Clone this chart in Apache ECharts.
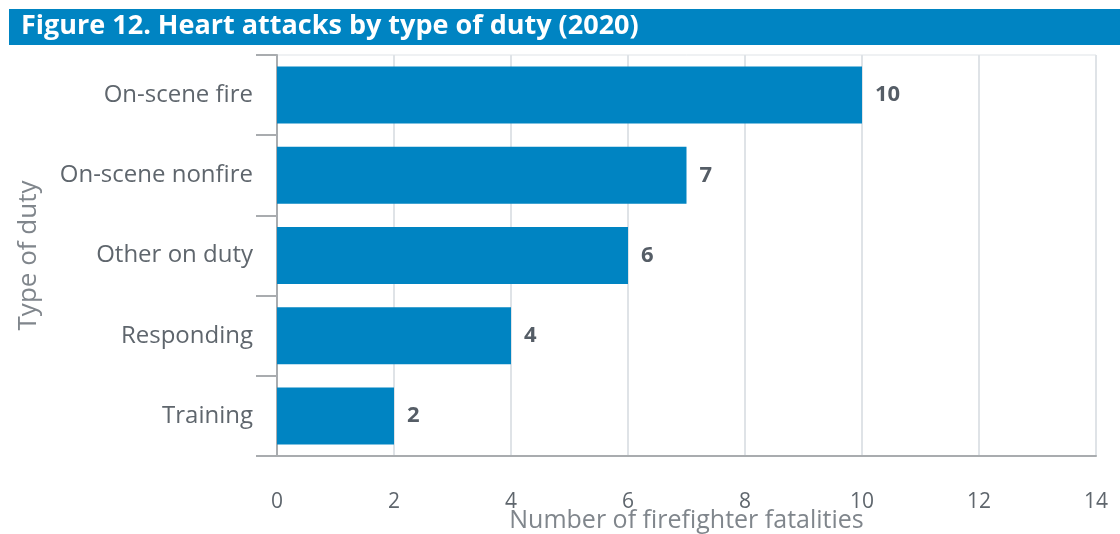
<!DOCTYPE html>
<html>
<head>
<meta charset="utf-8">
<script src="https://cdn.jsdelivr.net/npm/echarts@6/dist/echarts.min.js"></script>
<style>
  html, body { margin: 0; padding: 0; background: #fff; }
  #chart { width: 1120px; height: 534px; }
</style>
</head>
<body>
<div id="chart"></div>
<script>
// data
var duties = ['On-scene fire', 'On-scene nonfire', 'Other on duty', 'Responding', 'Training'];
var fatalities = [10, 7, 6, 4, 2];
var xTicks = [0, 2, 4, 6, 8, 10, 12, 14];

var blue = '#0084c2';
var chart = echarts.init(document.getElementById('chart'));

chart.setOption({
  animation: false,
  textStyle: { fontFamily: 'Open Sans' },
  graphic: [
    {
      type: 'rect',
      left: 9, top: 9,
      shape: { width: 1111, height: 36 },
      style: { fill: blue }
    },
    {
      type: 'text',
      left: 21, top: 13,
      style: {
        text: 'Figure 12. Heart attacks by type of duty (2020)',
        fill: '#fff',
        font: 'bold 27px "Open Sans"'
      }
    }
  ],
  grid: {
    left: 277, right: 24, top: 55, bottom: 78,
    outerBoundsMode: 'none',
    containLabel: false,
    show: true, borderColor: '#dfe3e7', borderWidth: 1
  },
  xAxis: {
    type: 'value',
    min: xTicks[0], max: xTicks[xTicks.length - 1], interval: 2,
    name: 'Number of firefighter fatalities',
    nameLocation: 'middle',
    nameGap: 52,
    nameMoveOverlap: false,
    nameTextStyle: { fontSize: 25, color: '#80868c' },
    axisLine: { show: true, lineStyle: { color: '#a9acaf', width: 2 } },
    axisTick: { show: false },
    axisLabel: { fontSize: 21, color: '#5f666d', margin: 36 },
    splitLine: { lineStyle: { color: '#dfe3e7', width: 2 } }
  },
  yAxis: {
    type: 'category',
    data: duties,
    inverse: true,
    name: 'Type of duty',
    nameLocation: 'middle',
    nameGap: 235,
    nameMoveOverlap: false,
    nameTextStyle: { fontSize: 26, color: '#80868c' },
    axisLine: { show: true, lineStyle: { color: '#a9acaf', width: 2 } },
    axisTick: { show: true, length: 21, lineStyle: { color: '#a9acaf', width: 2 } },
    axisLabel: { fontSize: 24, color: '#5f666d', margin: 24 }
  },
  series: [{
    type: 'bar',
    data: fatalities,
    barWidth: 57,
    itemStyle: { color: blue },
    label: {
      show: true,
      position: 'right',
      distance: 13,
      fontSize: 22,
      fontWeight: 'bold',
      color: '#555d66'
    }
  }]
});
</script>
</body>
</html>
